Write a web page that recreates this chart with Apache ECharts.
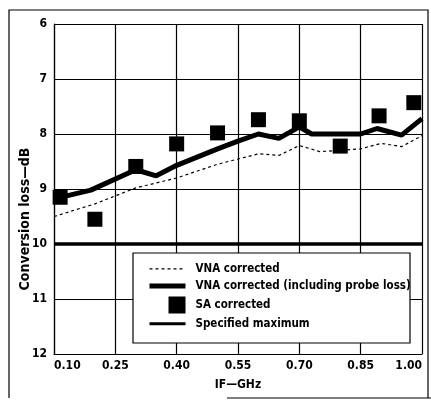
<!DOCTYPE html>
<html>
<head>
<meta charset="utf-8">
<script src="https://cdn.jsdelivr.net/npm/echarts@6/dist/echarts.min.js"></script>
<style>html,body{margin:0;padding:0;background:#fff}#c{width:431px;height:400px}</style>
</head>
<body>
<div id="c"></div>
<script>
// IF frequency (GHz) and conversion loss (dB)
var vnaX = [0.10, 0.20, 0.30, 0.40, 0.50, 0.60, 0.65, 0.70, 0.75, 0.80, 0.85, 0.90, 0.95, 1.00];
var vnaY = [9.50, 9.27, 8.98, 8.80, 8.55, 8.36, 8.39, 8.21, 8.32, 8.30, 8.27, 8.17, 8.23, 8.03];

var probeX = [0.10, 0.19, 0.30, 0.35, 0.40, 0.50, 0.55, 0.60, 0.65, 0.70, 0.73, 0.85, 0.89, 0.95, 1.00];
var probeY = [9.18, 9.02, 8.65, 8.76, 8.57, 8.27, 8.13, 8.00, 8.08, 7.87, 8.00, 8.00, 7.90, 8.02, 7.72];

var saX = [0.115, 0.20, 0.30, 0.40, 0.50, 0.60, 0.70, 0.80, 0.895, 0.98];
var saY = [9.15, 9.55, 8.59, 8.18, 7.98, 7.74, 7.76, 8.22, 7.67, 7.43];

var specX = [0.10, 1.00];
var specY = [10.0, 10.0];

var seriesNames = ['VNA corrected', 'VNA corrected (including probe loss)', 'SA corrected', 'Specified maximum'];
var xTicks = ['0.10', '0.25', '0.40', '0.55', '0.70', '0.85', '1.00'];
var yTicks = [6, 7, 8, 9, 10, 11, 12];

var X0 = 0.10; // axis origin offset (GHz)
function pairs(xs, ys) { return xs.map(function (x, i) { return [+(x - X0).toFixed(4), ys[i]]; }); }

var FONT = "'Liberation Sans Narrow','DejaVu Sans Condensed','Arial Narrow',sans-serif";
var INK = '#000';
var squareIcon = 'path://M0,8.5l0.01,0l0,0.01z M19,0h17v17h-17z';
var chart = echarts.init(document.getElementById('c'), null, { renderer: 'canvas' });
chart.setOption({
  animation: false,
  backgroundColor: '#fff',
  grid: { left: 54, right: 9, top: 24, bottom: 46, show: false },
  xAxis: {
    type: 'value', min: 0, max: 0.9, interval: 0.15,
    name: 'IF\u2014GHz', nameLocation: 'middle', nameGap: 25,
    nameTextStyle: { fontFamily: FONT, fontWeight: 'bold', fontSize: 12, color: INK },
    axisLine: { show: true, lineStyle: { color: INK, width: 1.2 } },
    axisTick: { show: false },
    axisLabel: {
      fontFamily: FONT, fontWeight: 'bold', fontSize: 12, color: INK, margin: 6,
      alignMinLabel: 'left', alignMaxLabel: 'right',
      formatter: function (v) { var i = Math.round(v / 0.15); return xTicks[i]; }
    },
    splitLine: { show: true, lineStyle: { color: INK, width: 1.2 } }
  },
  yAxis: {
    type: 'value', inverse: true, min: 6, max: 12, interval: 1,
    axisLine: { show: true, lineStyle: { color: INK, width: 1.2 } },
    axisTick: { show: false },
    axisLabel: {
      fontFamily: FONT, fontWeight: 'bold', fontSize: 12, color: INK, margin: 7,
      formatter: function (v) { return yTicks.indexOf(v) >= 0 ? String(v) : ''; }
    },
    splitLine: { show: true, lineStyle: { color: INK, width: 1.2 } }
  },
  legend: {
    orient: 'vertical', left: 147, top: 262, padding: 0,
    itemWidth: 36, itemHeight: 17, itemGap: 3.6, symbolKeepAspect: true,
    textStyle: { fontFamily: FONT, fontWeight: 'bold', fontSize: 11.5, color: INK, padding: [0, 0, 0, 5] },
    data: [
      { name: seriesNames[0], itemStyle: { opacity: 0 }, lineStyle: { width: 1.2, type: [3, 3] } },
      { name: seriesNames[1], itemStyle: { opacity: 0 }, lineStyle: { width: 5 } },
      { name: seriesNames[2], icon: squareIcon },
      { name: seriesNames[3], itemStyle: { opacity: 0 }, lineStyle: { width: 3 } }
    ],
    z: 5
  },
  graphic: [
    { type: 'rect', z: 3, shape: { x: 133, y: 253, width: 277, height: 90 },
      style: { fill: '#fff', stroke: INK, lineWidth: 1.2 } },
    { type: 'text', z: 3, x: 25, y: 219, rotation: Math.PI / 2,
      style: { text: 'Conversion loss\u2014dB', font: 'bold 14px ' + FONT, fill: INK,
        textAlign: 'center', textVerticalAlign: 'middle' } },
    { type: 'polyline', z: 3, shape: { points: [[9, 398], [9, 10], [428, 10], [428, 398]] },
      style: { fill: null, stroke: INK, lineWidth: 1.2 } },
    { type: 'line', z: 3, shape: { x1: 227, y1: 398, x2: 431, y2: 398 },
      style: { stroke: INK, lineWidth: 1.2 } }
  ],
  series: [
    { name: seriesNames[0], type: 'line', data: pairs(vnaX, vnaY), symbol: 'none',
      itemStyle: { color: INK }, lineStyle: { color: INK, width: 1.2, type: [3, 3] }, z: 2 },
    { name: seriesNames[1], type: 'line', data: pairs(probeX, probeY), symbol: 'none',
      itemStyle: { color: INK }, lineStyle: { color: INK, width: 5 }, z: 3 },
    { name: seriesNames[2], type: 'scatter', data: pairs(saX, saY), symbol: 'rect', symbolSize: 15,
      symbolKeepAspect: true, itemStyle: { color: INK, opacity: 1 }, z: 4 },
    { name: seriesNames[3], type: 'line', data: pairs(specX, specY), symbol: 'none',
      itemStyle: { color: INK }, lineStyle: { color: INK, width: 3.5 }, z: 2 }
  ]
});
</script>
</body>
</html>
